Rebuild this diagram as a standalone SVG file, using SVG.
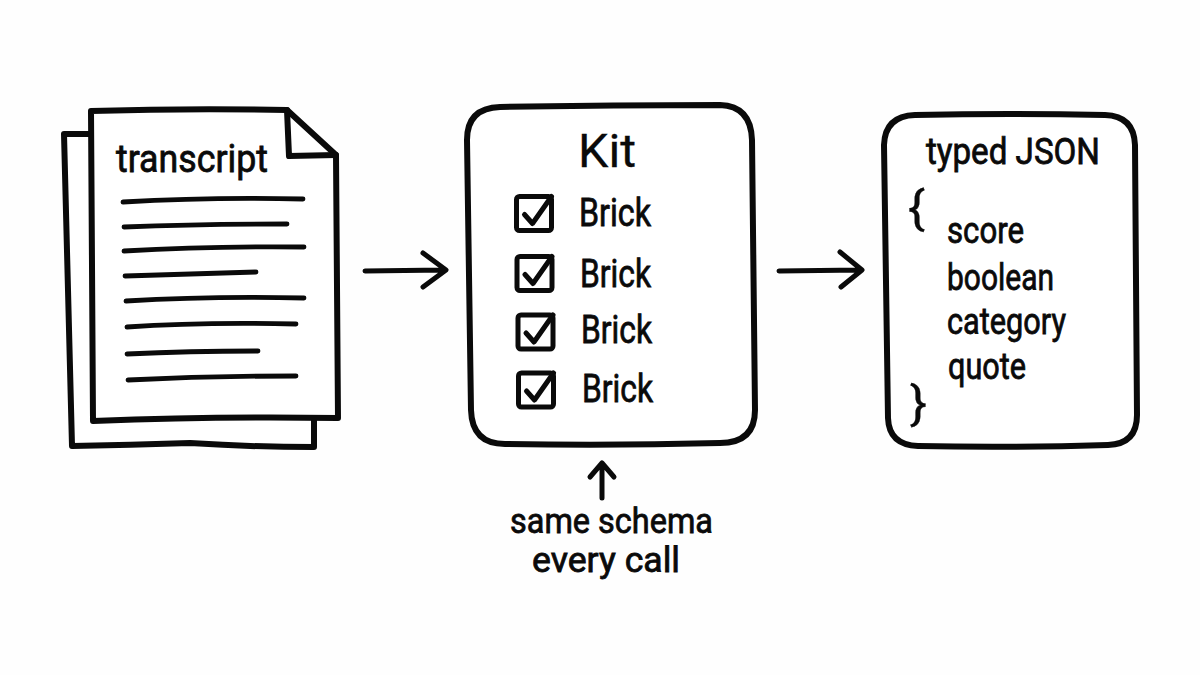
<svg xmlns="http://www.w3.org/2000/svg" width="1200" height="675" viewBox="0 0 1200 675">
<defs>
<style>
.s{fill:none;stroke:#0a0a0a;stroke-width:6;stroke-linecap:round;stroke-linejoin:round}
.a{fill:none;stroke:#0a0a0a;stroke-width:5;stroke-linecap:round;stroke-linejoin:round}
.w{fill:#fff;stroke:#0a0a0a;stroke-width:6;stroke-linecap:round;stroke-linejoin:round}
.l{fill:none;stroke:#0a0a0a;stroke-width:4.8;stroke-linecap:round}
.c{fill:none;stroke:#0a0a0a;stroke-width:5;stroke-linecap:round;stroke-linejoin:round}
text{font-family:Roboto,"Liberation Sans",sans-serif;fill:#0a0a0a;font-weight:400;stroke:#0a0a0a;stroke-width:.8}
.b{font-size:39px}
.j{font-size:37px}
.n{font-size:35px}
.t{stroke-width:.3}
</style>
<g id="tick">
<rect class="c" x="0" y="0" width="35" height="34" rx="3"/>
<path class="c" d="M8 18L16 27L35 0"/>
</g>
</defs>
<rect width="1200" height="675" fill="#fefefe"/>
<g id="transcript">
<path class="w" d="M90 134L64 134L72 446Q130 445 190 443Q250 447 314 447L314 420"/>
<path class="w" d="M91 111Q190 108 287 110L336 155L338 418Q220 416 93 421Q92 260 91 111Z"/>
<path class="s" d="M287 110L289 156L336 155"/>
<path class="l" d="M123 202Q210 197 303 199M124 227Q200 224 287 224M124 251Q210 246 304 247M125 276Q190 274 256 272M126 301Q210 296 304 298M127 327Q200 322 296 324M127 354Q190 351 258 351M128 380Q210 376 296 376"/>
<text x="116" y="172" font-size="39" textLength="152" lengthAdjust="spacingAndGlyphs">transcript</text>
</g>
<g id="kit">
<path class="w" d="M500 107Q610 105 720 105Q751 106 752 140L755 410Q755 443 720 443Q610 446 505 444Q472 444 471 410L467 140Q467 108 500 107Z"/>
<text x="578" y="167" font-size="46" textLength="58" lengthAdjust="spacingAndGlyphs" class="t">Kit</text>
<use href="#tick" x="516.500" y="196.500"/>
<use href="#tick" x="517" y="256.500"/>
<use href="#tick" x="518" y="315"/>
<use href="#tick" x="518.500" y="373"/>
<text class="b" x="579" y="226" textLength="72" lengthAdjust="spacingAndGlyphs">Brick</text>
<text class="b" x="580" y="287" textLength="71" lengthAdjust="spacingAndGlyphs">Brick</text>
<text class="b" x="581" y="343" textLength="71" lengthAdjust="spacingAndGlyphs">Brick</text>
<text class="b" x="582" y="402" textLength="71" lengthAdjust="spacingAndGlyphs">Brick</text>
</g>
<g id="json">
<path class="w" d="M915 115Q1010 113 1105 115Q1134 116 1135 145L1137 415Q1137 444 1108 445Q1010 448 918 446Q889 445 888 418L884 145Q885 116 915 115Z"/>
<text class="j" x="926" y="164" textLength="174" lengthAdjust="spacingAndGlyphs">typed JSON</text>
<text x="908" y="224" font-size="46" textLength="17" lengthAdjust="spacingAndGlyphs" class="t">{</text>
<text class="j" x="947" y="243" textLength="77" lengthAdjust="spacingAndGlyphs">score</text>
<text class="j" x="947" y="290" textLength="107" lengthAdjust="spacingAndGlyphs">boolean</text>
<text class="j" x="947" y="334" textLength="119" lengthAdjust="spacingAndGlyphs">category</text>
<text class="j" x="948" y="379" textLength="78" lengthAdjust="spacingAndGlyphs">quote</text>
<text x="910" y="419" font-size="46" textLength="17" lengthAdjust="spacingAndGlyphs" class="t">}</text>
</g>
<g id="note">
<text class="n" x="510" y="533" textLength="203" lengthAdjust="spacingAndGlyphs">same schema</text>
<text class="n" x="532" y="572" textLength="148" lengthAdjust="spacingAndGlyphs">every call</text>
</g>
<g id="connectors">
<path class="a" d="M365 271L444 270M423 253L446 270L423 287"/>
<path class="a" d="M779 271L860 270M840 252L862 270L841 287"/>
<path class="a" d="M602 498L602 465M590 477L602 463L614 477"/>
</g>
</svg>
